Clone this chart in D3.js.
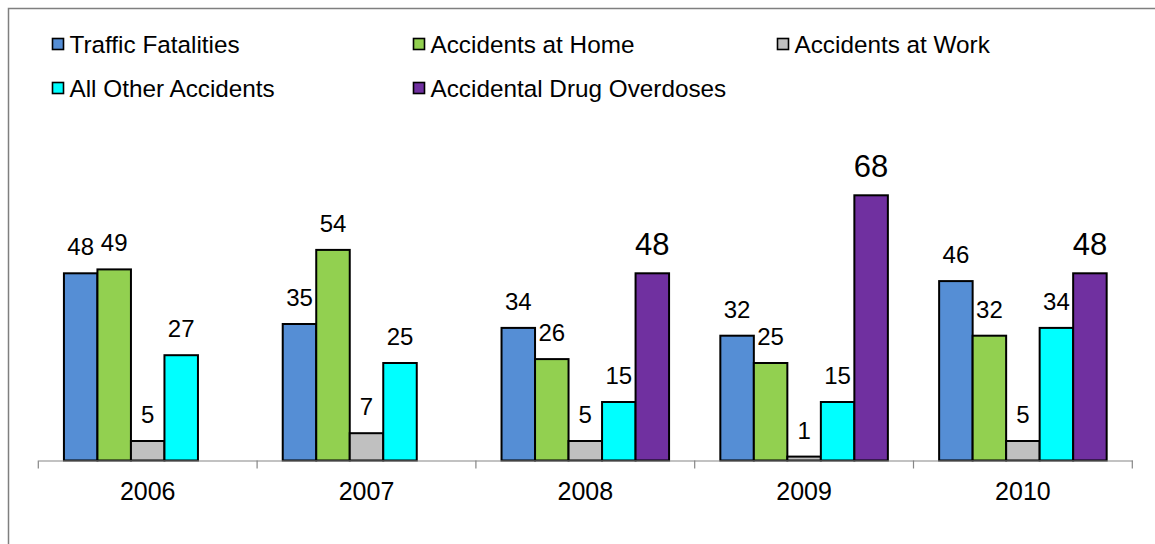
<!DOCTYPE html>
<html>
<head>
<meta charset="utf-8">
<script src="https://cdn.jsdelivr.net/npm/d3@7"></script>
<style>
  html, body { margin: 0; padding: 0; background: #fff; }
  svg { display: block; font-family: "Liberation Sans", Arial, sans-serif; }
</style>
</head>
<body>
<svg id="chart" width="1155" height="544"></svg>
<script>
// ---- data ----
const years = ["2006", "2007", "2008", "2009", "2010"];
const seriesNames = ["Traffic Fatalities", "Accidents at Home", "Accidents at Work", "All Other Accidents", "Accidental Drug Overdoses"];
const trafficFatalities = [48, 35, 34, 32, 46];
const accidentsAtHome = [49, 54, 26, 25, 32];
const accidentsAtWork = [5, 7, 5, 1, 5];
const allOtherAccidents = [27, 25, 15, 15, 34];
const drugOverdoses = [null, null, 48, 68, 48];
const seriesColors = ["#558ED5", "#92D050", "#C0C0C0", "#00FFFF", "#7030A0"];

const seriesValues = [trafficFatalities, accidentsAtHome, accidentsAtWork, allOtherAccidents, drugOverdoses];

// ---- layout ----
const svg = d3.select("#chart");
const axisY = 460.5;

// frame (extends beyond right/bottom edge as in the reference)
svg.append("rect")
  .attr("x", 8.5).attr("y", 8.5)
  .attr("width", 1170).attr("height", 560)
  .attr("fill", "none").attr("stroke", "#7f7f7f").attr("stroke-width", 1.5);

const x0 = d3.scaleBand().domain(years).range([38.3, 1132.3]).paddingInner(0).paddingOuter(0);
const x1 = d3.scaleBand().domain(d3.range(seriesNames.length))
  .range([0, x0.bandwidth()]).paddingInner(0).paddingOuter(0.765);
const y = d3.scaleLinear().domain([0, 80]).range([axisY, axisY - 312]);

// bars
const groups = svg.append("g").selectAll("g")
  .data(years)
  .join("g")
  .attr("transform", d => `translate(${x0(d)},0)`);

const barData = (yr, i) => seriesValues.map((vals, s) => ({ s, v: vals[i], yr }));

groups.each(function(yr, i) {
  const g = d3.select(this);
  const data = barData(yr, i).filter(d => d.v !== null);
  g.selectAll("rect")
    .data(data)
    .join("rect")
    .attr("x", d => x1(d.s))
    .attr("y", d => y(d.v))
    .attr("width", x1.bandwidth())
    .attr("height", d => axisY - y(d.v))
    .attr("fill", d => seriesColors[d.s])
    .attr("stroke", "#000")
    .attr("stroke-width", 2);
  g.selectAll("text")
    .data(data)
    .join("text")
    .attr("x", d => x1(d.s) + x1.bandwidth() / 2)
    .attr("y", d => y(d.v) - 18)
    .attr("text-anchor", "middle")
    .attr("font-size", d => d.s === 4 ? 31 : 24)
    .attr("fill", "#000")
    .text(d => d.v);
});

// x axis
const axis = d3.axisBottom(x0).tickSize(0).tickPadding(0);
const axG = svg.append("g").attr("transform", `translate(0,${axisY})`).call(axis);
axG.select(".domain").attr("stroke", "#868686").attr("stroke-width", 1.2);
axG.selectAll(".tick text")
  .attr("font-size", 25)
  .attr("font-family", "Liberation Sans, Arial, sans-serif")
  .attr("fill", "#000")
  .attr("dy", 0)
  .attr("y", 39.5);
// boundary ticks between categories
const boundaries = years.map(d => x0(d)).concat([x0(years[years.length - 1]) + x0.bandwidth()]);
axG.selectAll("line.bound")
  .data(boundaries)
  .join("line")
  .attr("class", "bound")
  .attr("x1", d => d).attr("x2", d => d)
  .attr("y1", 0).attr("y2", 8)
  .attr("stroke", "#868686").attr("stroke-width", 1.2);

// legend
const legendPos = [
  { x: 52, y: 44 }, { x: 413, y: 44 }, { x: 777, y: 44 },
  { x: 52, y: 88 }, { x: 413, y: 88 }
];
const leg = svg.append("g").selectAll("g")
  .data(seriesNames)
  .join("g")
  .attr("transform", (d, i) => `translate(${legendPos[i].x},${legendPos[i].y})`);
leg.append("rect")
  .attr("x", 0.5).attr("y", -5.5)
  .attr("width", 11).attr("height", 11)
  .attr("fill", (d, i) => seriesColors[i])
  .attr("stroke", "#000").attr("stroke-width", 1.6);
leg.append("text")
  .attr("x", 17.5)
  .attr("y", 8.6)
  .attr("font-size", 24.3)
  .attr("fill", "#000")
  .text(d => d);
</script>
</body>
</html>
